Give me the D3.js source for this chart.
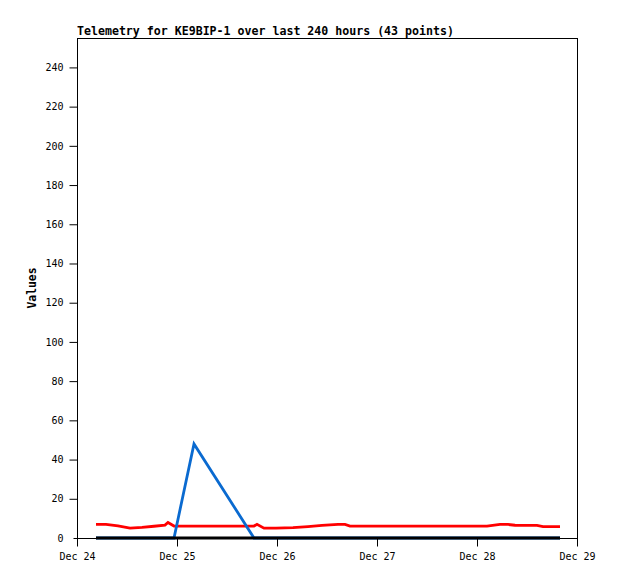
<!DOCTYPE html>
<html>
<head>
<meta charset="utf-8">
<script src="https://cdn.jsdelivr.net/npm/d3@7"></script>
<style>
	body { margin: 0; background: #fff; }
	svg text { font-family: "DejaVu Sans Mono", monospace; }
</style>
</head>
<body>
<svg id="chart" width="618" height="579"></svg>
<script>
// hours after Dec 24 00:00 for each of the 43 samples
const hours = [4.56, 6.96, 9.84, 12.72, 15.6, 18.48, 21.12, 21.84, 23.28, 28.08,
	42.48, 43.2, 44.88, 47.76, 51.84, 55.44, 58.8, 62.64, 64.32, 65.52,
	68.4, 71.52, 74.64, 77.52, 80.4, 83.52, 86.4, 89.52, 92.4, 95.52,
	98.4, 101.52, 103.44, 105.12, 106.8, 108.72, 110.4, 111.84, 113.04, 114,
	114.72, 115.44, 115.92];
const redVals = [6.9, 6.9, 6.2, 5.0, 5.4, 6.0, 6.6, 7.9, 6.1, 6.1,
	6.1, 7.0, 5.0, 5.0, 5.3, 5.8, 6.4, 6.9, 6.9, 6.1,
	6.1, 6.1, 6.1, 6.1, 6.1, 6.1, 6.1, 6.1, 6.1, 6.1,
	6.1, 6.9, 6.9, 6.5, 6.4, 6.4, 6.4, 5.8, 5.8, 5.8,
	5.8, 5.8, 5.8];
const blueVals = [0, 0, 0, 0, 0, 0, 0, 0, 0, 48,
	0, 0, 0, 0, 0, 0, 0, 0, 0, 0,
	0, 0, 0, 0, 0, 0, 0, 0, 0, 0,
	0, 0, 0, 0, 0, 0, 0, 0, 0, 0,
	0, 0, 0];
const blackVals = [0, 0, 0, 0, 0, 0, 0, 0, 0, 0,
	0, 0, 0, 0, 0, 0, 0, 0, 0, 0,
	0, 0, 0, 0, 0, 0, 0, 0, 0, 0,
	0, 0, 0, 0, 0, 0, 0, 0, 0, 0,
	0, 0, 0];
const yTicks = [0, 20, 40, 60, 80, 100, 120, 140, 160, 180, 200, 220, 240];
const xTickLabels = ['Dec 24', 'Dec 25', 'Dec 26', 'Dec 27', 'Dec 28', 'Dec 29'];
const titleText = 'Telemetry for KE9BIP-1 over last 240 hours (43 points)';

const t0 = new Date(2023, 11, 24);
const times = hours.map(h => new Date(t0.getTime() + h * 3600000));
const xTickDates = xTickLabels.map((d, i) => new Date(2023, 11, 24 + i));

const m = { left: 77, top: 38, right: 577, bottom: 538 };
const svg = d3.select('#chart');

const x = d3.scaleTime()
	.domain([xTickDates[0], xTickDates[xTickDates.length - 1]])
	.range([m.left, m.right]);
const y = d3.scaleLinear().domain([0, 255]).range([m.bottom, m.top]);

// frame
svg.append('rect')
	.attr('x', m.left + 0.5).attr('y', m.top + 0.5)
	.attr('width', m.right - m.left).attr('height', m.bottom - m.top)
	.attr('fill', 'none').attr('stroke', '#000').attr('stroke-width', 1);

const line = vals => d3.line()
	.x((d, i) => x(times[i]))
	.y(d => y(d))(vals);

const series = [
	{ vals: redVals, color: '#ff0000' },
	{ vals: blueVals, color: '#0a6ad0' },
	{ vals: blackVals, color: '#000000' }
];
svg.append('g').selectAll('path')
	.data(series)
	.enter().append('path')
		.attr('d', d => line(d.vals))
		.attr('fill', 'none')
		.attr('stroke', d => d.color)
		.attr('stroke-width', 2.8);

// y axis
const yAxis = svg.append('g')
	.attr('transform', `translate(${m.left + 0.5},0)`)
	.call(d3.axisLeft(y).tickValues(yTicks).tickSize(8).tickPadding(6));
yAxis.select('.domain').remove();
yAxis.selectAll('text').style('font-size', '10px').attr('fill', '#000');
yAxis.selectAll('.tick line').attr('transform', (d, i) => d === 0 ? 'translate(4,0)' : null);

// x axis
const xAxis = svg.append('g')
	.attr('transform', `translate(0,${m.bottom + 0.5})`)
	.call(d3.axisBottom(x).tickValues(xTickDates)
		.tickFormat((d, i) => xTickLabels[i]).tickSize(8).tickPadding(6));
xAxis.select('.domain').remove();
xAxis.selectAll('text').style('font-size', '10px').attr('fill', '#000');

svg.append('text')
	.attr('x', m.left).attr('y', 35)
	.style('font-size', '11.6px').style('font-weight', 'bold')
	.text(titleText);

svg.append('text')
	.attr('transform', `translate(36,${(m.top + m.bottom) / 2}) rotate(-90)`)
	.attr('text-anchor', 'middle')
	.style('font-size', '11.4px').style('font-weight', 'bold')
	.text('Values');
</script>
</body>
</html>
